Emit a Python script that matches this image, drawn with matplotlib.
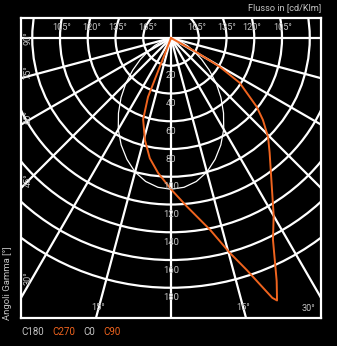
import numpy as np
import matplotlib
matplotlib.use('Agg')
import matplotlib.pyplot as plt
from matplotlib.patches import Circle

# data (cd/klm against gamma angle in degrees)
gamma_c0 = [0, 5, 10, 15, 20, 25, 30, 35, 40, 45, 50, 55, 60, 65, 70, 75, 80, 85, 90]
i_c0 = [109, 108, 105, 100, 93, 85, 76, 66, 56, 46, 36, 27, 19, 13, 7, 4, 1.5, 0.5, 0]
gamma_c180 = [0, 5, 10, 15, 20, 25, 30, 35, 40, 45, 50, 55, 60, 65, 70, 75, 80, 85, 90]
i_c180 = [109, 108, 105, 100, 93, 85, 76, 66, 56, 46, 36, 27, 19, 13, 7, 4, 1.5, 0.5, 0]

# C270 on the left (negative gamma), C90 on the right
gamma_c90 = [-22, -21.3, -18.9, -14.3, -10, -5.5, 0, 5.4, 11.5, 15.3, 18.1, 20, 21.3, 22,
             23.5, 26.8, 30, 34.1, 40.7, 44.4, 48.3, 51.3, 56.9, 59.4, 61, 62]
i_c90 = [0, 45.6, 62, 76, 88, 97.6, 109, 122, 141, 160.5, 176, 190, 201, 204,
         191, 163, 148, 129.6, 109, 100, 88.7, 79, 59, 41, 20, 0]

rings = [20, 40, 60, 80, 100, 120, 140, 160, 180]
spokes = [15, 30, 45, 60, 75, 90]
top_labels = ['105°', '120°', '135°', '165°', '165°', '135°', '120°', '105°']
left_labels = ['90°', '75°', '60°', '45°', '30°']
bottom_labels = ['15°', '15°', '30°']
legend_names = ['C180', 'C270', 'C0', 'C90']

W, H = 337, 346
orange = '#f0641e'
grey = '#c4c4c4'
fnt = 'Roboto'

fig = plt.figure(figsize=(W / 100, H / 100), dpi=100, facecolor='black')
# plot box in pixels: x 21..321, y 18..318, pole at (171, 38)
ax = fig.add_axes([21 / W, (H - 318) / H, 300 / W, 300 / H])
ax.set_facecolor('black')
u = 0.7207  # units per pixel
ax.set_xlim(-150 * u, 150 * u)
ax.set_ylim(-280 * u, 20 * u)
ax.set_xticks([])
ax.set_yticks([])
for s in ax.spines.values():
    s.set_color('white')
    s.set_linewidth(1.6)

def px(x, y):
    # pixel position in the picture -> data coords
    return (x - 171) * u, (38 - y) * u

# grid
for r in rings:
    ax.add_patch(Circle((0, 0), r, fill=False, ec='white', lw=1.6, zorder=1))
ax.plot([0, 0], [-400, 100], color='white', lw=1.6, zorder=1)
for g in spokes:
    t = np.radians(g)
    for sgn in (-1, 1):
        ax.plot([0, sgn * 400 * np.sin(t)], [0, -400 * np.cos(t)],
                color='white', lw=1.6, zorder=1)

# curves
g = np.radians(gamma_c0)
ax.plot(np.array(i_c0) * np.sin(g), -np.array(i_c0) * np.cos(g), color='white', lw=0.9, zorder=2)
g = np.radians(gamma_c180)
ax.plot(-np.array(i_c180) * np.sin(g), -np.array(i_c180) * np.cos(g), color='white', lw=0.9, zorder=2)
g = np.radians(gamma_c90)
ax.plot(np.array(i_c90) * np.sin(g), -np.array(i_c90) * np.cos(g), color=orange, lw=1.4, zorder=3)

# ring labels
for r in rings:
    ax.text(0, -r - 7.3, str(r), color=grey, fontsize=6.8, family=fnt,
            ha='center', va='center', zorder=4)

top_x = [62, 92, 118, 148, 197, 227, 252, 283]
for lab, x in zip(top_labels, top_x):
    ax.text(*px(x, 28), lab, color=grey, fontsize=6.6, family=fnt, ha='center', va='center')
left_y = [38, 72, 117, 180, 278]
for lab, y in zip(left_labels, left_y):
    ax.text(*px(28, y), lab, color=grey, fontsize=6.6, family=fnt, ha='center', va='center',
            rotation=90)
bottom_xy = [(98, 307), (243, 307), (308, 308)]
for lab, (x, y) in zip(bottom_labels, bottom_xy):
    ax.text(*px(x, y), lab, color=grey, fontsize=6.6, family=fnt, ha='center', va='center')

fig.text(321 / W, 1 - 8 / H, 'Flusso in [cd/Klm]', color=grey, fontsize=6.6, family=fnt,
         ha='right', va='center')
fig.text(8 / W, 1 - 320 / H, 'Angoli Gamma [°]', color=grey, fontsize=6.8, family=fnt,
         ha='center', va='bottom', rotation=90)

leg_x = [21, 52, 83, 103]
leg_c = [grey, orange, grey, orange]
for name, x, c in zip(legend_names, leg_x, leg_c):
    fig.text(x / W, 1 - 332 / H, name, color=c, fontsize=7, family=fnt, ha='left', va='center')

fig.savefig('out.png', dpi=100, facecolor='black')
